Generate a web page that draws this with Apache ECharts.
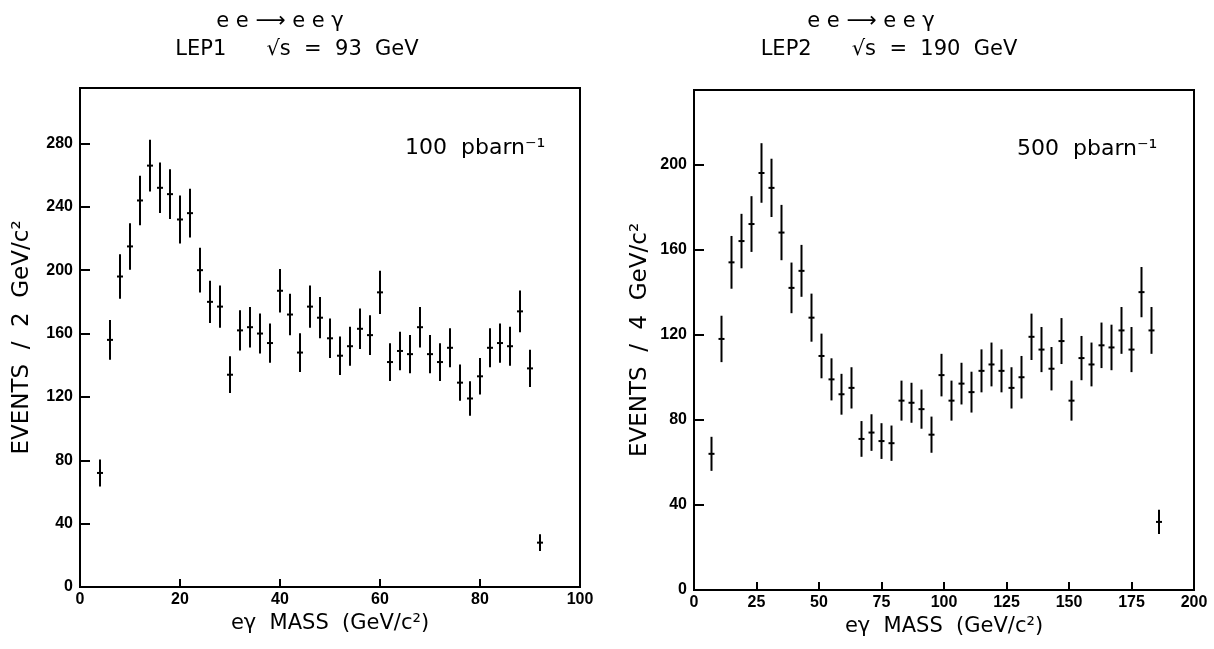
<!DOCTYPE html>
<html>
<head>
<meta charset="utf-8">
<script src="https://cdn.jsdelivr.net/npm/echarts@6/dist/echarts.min.js"></script>
<style>
html,body{margin:0;padding:0;background:#fff;}
#chart{width:1214px;height:649px;}
</style>
</head>
<body>
<div id="chart"></div>
<script>
// LEP1 (sqrt(s) = 93 GeV), 2 GeV bins
const lep1Mass = [4,6,8,10,12,14,16,18,20,22,24,26,28,30,32,34,36,38,40,42,44,46,48,50,52,54,56,58,60,62,64,66,68,70,72,74,76,78,80,82,84,86,88,90,92];
const lep1Events = [72,156,196,215,244,266,252,248,232,236,200,180,177,134,162,164,160,154,187,172,148,177,170,157,146,152,163,159,186,142,149,147,164,147,142,151,129,119,133,151,154,152,174,138,28];
const lep1Err = [8.5,12.5,14,14.7,15.6,16.3,15.9,15.7,15.2,15.4,14.1,13.4,13.3,11.6,12.7,12.8,12.6,12.4,13.7,13.1,12.2,13.3,13,12.5,12.1,12.3,12.8,12.6,13.6,11.9,12.2,12.1,12.8,12.1,11.9,12.3,11.4,10.9,11.5,12.3,12.4,12.3,13.2,11.7,5.3];

// LEP2 (sqrt(s) = 190 GeV), 4 GeV bins
const lep2Mass = [7,11,15,19,23,27,31,35,39,43,47,51,55,59,63,67,71,75,79,83,87,91,95,99,103,107,111,115,119,123,127,131,135,139,143,147,151,155,159,163,167,171,175,179,183,186];
const lep2Events = [64,118,154,164,172,196,189,168,142,150,128,110,99,92,95,71,74,70,69,89,88,85,73,101,89,97,93,103,106,103,95,100,119,113,104,117,89,109,106,115,114,122,113,140,122,32];
const lep2Err = [8,10.9,12.4,12.8,13.1,14,13.7,13,11.9,12.2,11.3,10.5,9.9,9.6,9.7,8.4,8.6,8.4,8.3,9.4,9.4,9.2,8.5,10,9.4,9.8,9.6,10.1,10.3,10.1,9.7,10,10.9,10.6,10.2,10.8,9.4,10.4,10.3,10.7,10.7,11,10.6,11.8,11,5.7];

// tick settings
const lep1XTicks = {min:0, max:100, interval:20};
const lep1YTicks = {min:0, max:315, interval:40};
const lep2XTicks = {min:0, max:200, interval:25};
const lep2YTicks = {min:0, max:235, interval:40};

const titles = {
  process: 'e e \u27F6 e e \u03b3',
  lep1: 'LEP1      \u221As  =  93  GeV',
  lep2: 'LEP2      \u221As  =  190  GeV',
  lumi1: '100  pbarn\u207B\u00B9',
  lumi2: '500  pbarn\u207B\u00B9',
  xName: 'e\u03b3  MASS  (GeV/c\u00B2)',
  yName1: 'EVENTS  /  2  GeV/c\u00B2',
  yName2: 'EVENTS  /  4  GeV/c\u00B2'
};

function toData(xs, ys, es){
  return xs.map((x,i)=>[x, ys[i], es[i]]);
}

function renderErr(params, api){
  const x = api.value(0), y = api.value(1), e = api.value(2);
  const top = api.coord([x, y + e]);
  const bot = api.coord([x, y - e]);
  const c = api.coord([x, y]);
  return {
    type:'group',
    children:[
      {type:'line', shape:{x1:top[0], y1:top[1], x2:bot[0], y2:bot[1]}, style:{stroke:'#000', lineWidth:2}},
      {type:'line', shape:{x1:c[0]-3, y1:c[1], x2:c[0]+3, y2:c[1]}, style:{stroke:'#000', lineWidth:2}}
    ]
  };
}

const labelFont = {color:'#000', fontSize:16, fontWeight:'bold', fontFamily:'Liberation Sans, Arial, sans-serif'};
const nameFont = {color:'#000', fontSize:21, fontFamily:'DejaVu Sans, sans-serif'};
const yNameFont = {color:'#000', fontSize:23, fontFamily:'DejaVu Sans, sans-serif'};

function xAxisCfg(grid, t){
  return {
    type:'value', gridIndex:grid, min:t.min, max:t.max, interval:t.interval,
    name:titles.xName, nameLocation:'middle', nameGap:26, nameTextStyle:nameFont,
    axisLine:{show:true, lineStyle:{color:'#000', width:2}},
    axisTick:{show:true, inside:true, length:8, lineStyle:{color:'#000', width:2}},
    axisLabel:Object.assign({margin:5}, labelFont),
    splitLine:{show:false}
  };
}
function yAxisCfg(grid, t, name, gap){
  return {
    type:'value', gridIndex:grid, min:t.min, max:t.max, interval:t.interval,
    name:name, nameLocation:'middle', nameGap:gap, nameTextStyle:yNameFont,
    axisLine:{show:true, lineStyle:{color:'#000', width:2}},
    axisTick:{show:true, inside:true, length:10, lineStyle:{color:'#000', width:2}},
    axisLabel:Object.assign({margin:7, showMaxLabel:false}, labelFont),
    splitLine:{show:false}
  };
}

const chart = echarts.init(document.getElementById('chart'), null, {renderer:'canvas'});
const titleFont = {color:'#000', fontSize:21, fontWeight:'normal', fontFamily:'DejaVu Sans, sans-serif'};
chart.setOption({
  backgroundColor:'#fff',
  animation:false,
  title:[
    {text:titles.process, left:275, top:6, textAlign:'center', textStyle:titleFont},
    {text:titles.lep1, left:292, top:34, textAlign:'center', textStyle:titleFont},
    {text:titles.process, left:866, top:6, textAlign:'center', textStyle:titleFont},
    {text:titles.lep2, left:884, top:34, textAlign:'center', textStyle:titleFont}
  ],
  graphic:[
    {type:'text', left:405, top:137, style:{text:titles.lumi1, fill:'#000', fontSize:22, fontFamily:'DejaVu Sans, sans-serif'}},
    {type:'text', left:1017, top:138, style:{text:titles.lumi2, fill:'#000', fontSize:22, fontFamily:'DejaVu Sans, sans-serif'}}
  ],
  grid:[
    {left:80, top:88, width:500, height:499, show:true, borderColor:'#000', borderWidth:2, backgroundColor:'transparent'},
    {left:694, top:90, width:500, height:500, show:true, borderColor:'#000', borderWidth:2, backgroundColor:'transparent'}
  ],
  xAxis:[xAxisCfg(0, lep1XTicks), xAxisCfg(1, lep2XTicks)],
  yAxis:[yAxisCfg(0, lep1YTicks, titles.yName1, 46), yAxisCfg(1, lep2YTicks, titles.yName2, 42)],
  series:[
    {type:'custom', xAxisIndex:0, yAxisIndex:0, renderItem:renderErr, encode:{x:0, y:1}, data:toData(lep1Mass, lep1Events, lep1Err)},
    {type:'custom', xAxisIndex:1, yAxisIndex:1, renderItem:renderErr, encode:{x:0, y:1}, data:toData(lep2Mass, lep2Events, lep2Err)}
  ]
});
</script>
</body>
</html>
